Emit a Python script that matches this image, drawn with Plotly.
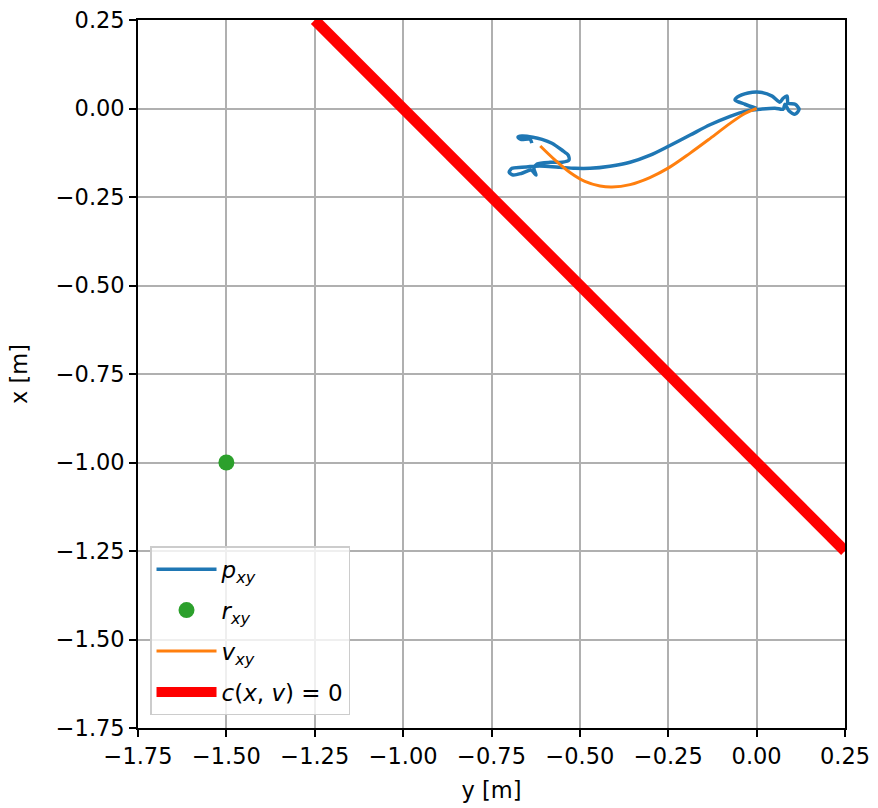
import plotly.graph_objects as go

# p_xy trajectory (x = vertical, y = horizontal)
p_y = [0.0, -0.033, -0.061, -0.055, -0.024, 0.010, 0.044, 0.066, 0.075, 0.086, 0.089, 0.109, 0.120, 0.109,
       0.092, 0.080, 0.075, 0.052, 0.010, -0.033, -0.075, -0.132, -0.188, -0.248, -0.301, -0.358, -0.415,
       -0.471, -0.514, -0.556, -0.599, -0.627, -0.664, -0.692, -0.700, -0.689, -0.664, -0.638, -0.624,
       -0.630, -0.621, -0.584, -0.550, -0.531, -0.533, -0.550, -0.579, -0.607, -0.633, -0.664, -0.675,
       -0.667, -0.641, -0.636]
p_x = [0.0, 0.012, 0.024, 0.032, 0.044, 0.046, 0.035, 0.018, 0.029, 0.035, 0.015, 0.012, -0.002, -0.016,
       -0.007, 0.012, -0.002, 0.001, -0.002, -0.008, -0.022, -0.046, -0.075, -0.106, -0.132, -0.152, -0.163,
       -0.169, -0.169, -0.166, -0.163, -0.163, -0.166, -0.169, -0.180, -0.188, -0.183, -0.174, -0.188,
       -0.169, -0.157, -0.152, -0.152, -0.146, -0.132, -0.118, -0.098, -0.087, -0.081, -0.078, -0.081,
       -0.087, -0.087, -0.098]

# v_xy trajectory
v_y = [-0.612, -0.570, -0.528, -0.486, -0.443, -0.409, -0.358, -0.302, -0.248, -0.188, -0.132, -0.075, -0.033, 0.0]
v_x = [-0.106, -0.146, -0.181, -0.206, -0.219, -0.222, -0.215, -0.195, -0.167, -0.126, -0.085, -0.042, -0.014, 0.0]

# reference point r_xy
r_y = [-1.5]
r_x = [-1.0]

# constraint line c(x, v) = 0 : x = -y - 1
c_y = [-1.25, 0.25]
c_x = [0.25, -1.25]

ticks = [-1.75, -1.5, -1.25, -1.0, -0.75, -0.5, -0.25, 0.0, 0.25]
tick_text = [("\u2212" if t < 0 else "") + f"{abs(t):.2f}" for t in ticks]

fig = go.Figure()
fig.add_trace(go.Scatter(x=p_y, y=p_x, mode="lines",
                         line=dict(color="#1f77b4", width=3.5, shape="spline", smoothing=0.8),
                         name="<i>p</i><sub><i>xy</i></sub>", legendgroup="a"))
fig.add_trace(go.Scatter(x=r_y, y=r_x, mode="markers", marker=dict(color="#2ca02c", size=16),
                         name="<i>r</i><sub><i>xy</i></sub>", legendgroup="b"))
fig.add_trace(go.Scatter(x=v_y, y=v_x, mode="lines",
                         line=dict(color="#ff7f0e", width=3, shape="spline", smoothing=1.0),
                         name="<i>v</i><sub><i>xy</i></sub>", legendgroup="c"))
fig.add_trace(go.Scatter(x=c_y, y=c_x, mode="lines", line=dict(color="#ff0000", width=11),
                         name="<i>c</i>(<i>x</i>, <i>v</i>) = 0", legendgroup="d"))

axis_common = dict(
    range=[-1.75, 0.25], tickvals=ticks, ticktext=tick_text, automargin=False,
    showgrid=True, gridcolor="#b0b0b0", gridwidth=1.6,
    showline=True, linecolor="black", linewidth=1.6, mirror=True,
    ticks="outside", ticklen=7, tickwidth=1.6, tickcolor="black",
    zeroline=False, tickfont=dict(size=22.5, color="black"),
)

fig.update_layout(
    width=878, height=808,
    margin=dict(l=138, r=33, t=20, b=80),
    paper_bgcolor="white", plot_bgcolor="white",
    font=dict(family="DejaVu Sans", size=22, color="black"),
    xaxis=dict(title=dict(text="y [m]", font=dict(size=22.5), standoff=14), **axis_common),
    yaxis=dict(title=dict(text="x [m]", font=dict(size=22.5), standoff=22), **axis_common),
    legend=dict(x=0.017, y=0.018, xanchor="left", yanchor="bottom",
                bgcolor="rgba(255,255,255,0.8)", bordercolor="#cccccc", borderwidth=1.5,
                font=dict(size=23), tracegroupgap=8, itemwidth=60),
    showlegend=True,
)

fig.write_html("out.html")
